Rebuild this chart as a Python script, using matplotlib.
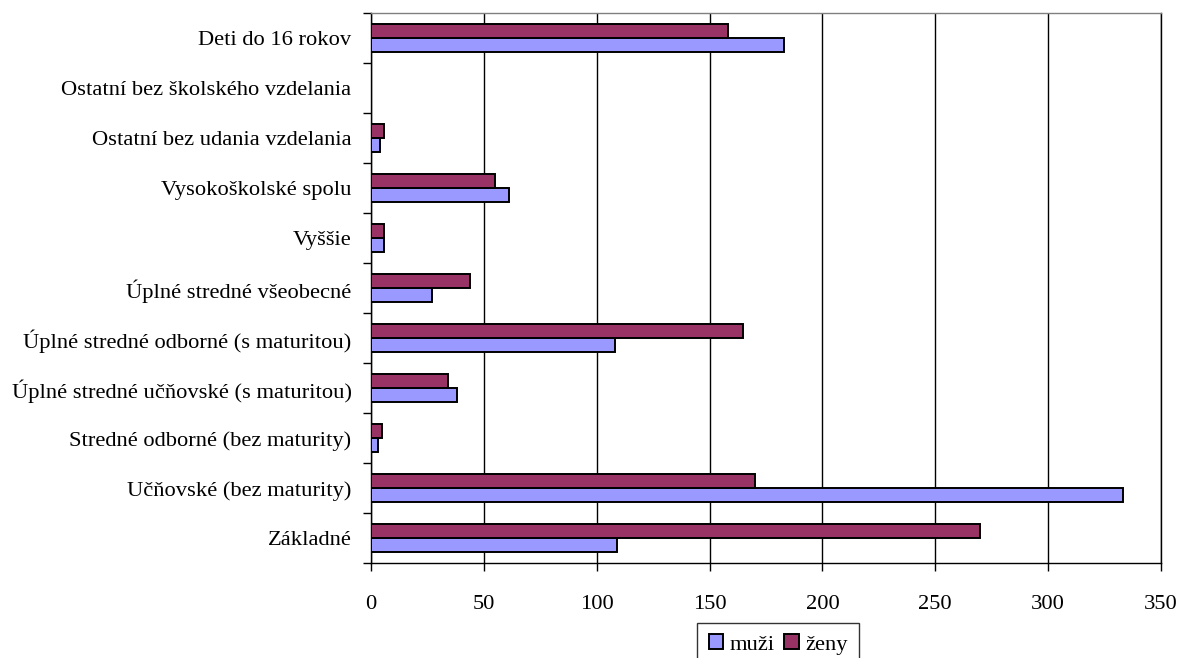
import numpy as np
import matplotlib
matplotlib.use("Agg")
import matplotlib.pyplot as plt

# kategórie odspodu nahor
categories = [
    "Základné",
    "Učňovské (bez maturity)",
    "Stredné odborné (bez maturity)",
    "Úplné stredné učňovské (s maturitou)",
    "Úplné stredné odborné (s maturitou)",
    "Úplné stredné všeobecné",
    "Vyššie",
    "Vysokoškolské spolu",
    "Ostatní bez udania vzdelania",
    "Ostatní bez školského vzdelania",
    "Deti do 16 rokov",
]
muzi = [109, 333, 3, 38, 108, 27, 6, 61, 4, 0, 183]
zeny = [270, 170, 5, 34, 165, 44, 6, 55, 6, 0, 158]
x_ticks = [0, 50, 100, 150, 200, 250, 300, 350]

plt.rcParams['font.family'] = ['Liberation Serif', 'DejaVu Serif']
fs = 16.2

fig = plt.figure(figsize=(11.81, 6.58), dpi=100)
ax = fig.add_axes([0.3141, 0.1439, 0.9831 - 0.3141, 0.9798 - 0.1439])

y = np.arange(len(categories))
h = 0.28
ax.barh(y - h / 2, muzi, height=h, color='#9999FF', edgecolor='black',
        linewidth=1.4, label='muži', zorder=3)
ax.barh(y + h / 2, zeny, height=h, color='#993366', edgecolor='black',
        linewidth=1.4, label='ženy', zorder=3)

ax.set_xlim(0, 350)
ax.set_ylim(-0.5, len(categories) - 0.5)
ax.set_xticks(x_ticks)
ax.set_xticklabels([str(v) for v in x_ticks], fontsize=fs)
ax.set_yticks(y)
ax.set_yticklabels(categories, fontsize=fs)
ax.set_yticks(np.arange(len(categories) + 1) - 0.5, minor=True)
ax.tick_params(axis='y', which='major', length=0, pad=14)
ax.tick_params(axis='y', which='minor', length=6, width=1, direction='out')
ax.tick_params(axis='x', length=6, width=1, direction='out', pad=17)

ax.xaxis.grid(True, color='black', linewidth=1, zorder=0)
ax.set_axisbelow(True)

ax.spines['top'].set_color('#808080')
for s in ['left', 'bottom', 'right']:
    ax.spines[s].set_color('black')
for s in ax.spines:
    ax.spines[s].set_linewidth(1)

# legenda je dole orezaná ako v origináli
fig.legend(loc='upper center', bbox_to_anchor=(0.659, 0.053), ncol=2,
           fontsize=fs, frameon=True, fancybox=False, edgecolor='black',
           handlelength=0.65, handleheight=0.65, handletextpad=0.3,
           columnspacing=0.4, borderpad=0.5, borderaxespad=0)

fig.savefig('out.png', dpi=100)
